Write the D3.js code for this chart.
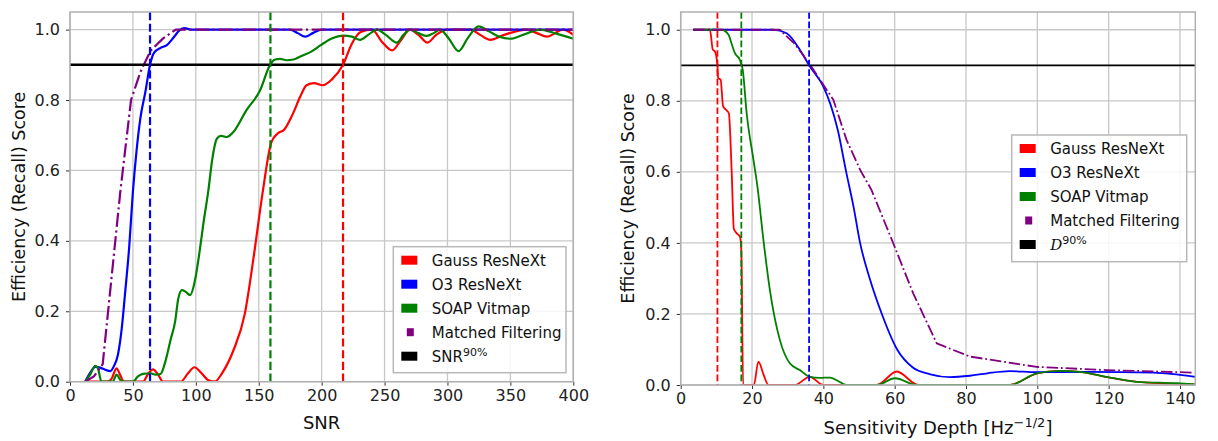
<!DOCTYPE html>
<html>
<head>
<meta charset="utf-8">
<script src="https://cdn.jsdelivr.net/npm/d3@7"></script>
<style>
  html, body { margin: 0; padding: 0; background: #fff; }
  svg { display: block; font-family: "DejaVu Sans", sans-serif; }
</style>
</head>
<body>
<svg id="fig" width="1218" height="441"></svg>
<script>
// ---- tick values ----
const snrTicks = [0, 50, 100, 150, 200, 250, 300, 350, 400];
const depthTicks = [0, 20, 40, 60, 80, 100, 120, 140];
const recallTicks = [0, 0.2, 0.4, 0.6, 0.8, 1.0];

const seriesNames = ["Gauss ResNeXt", "O3 ResNeXt", "SOAP Vitmap", "Matched Filtering"];

// ---- recall vs SNR: [snr, recall] ----
const gaussSnr = [[12,0],[30,0],[33,0.008],[37,0.038],[40,0.018],[43,0],[58,0],[62,0.022],[66,0.035],[70,0.02],[74,0],[88,0],[94,0.025],[99,0.041],[104,0.026],[110,0.004],[115,0],[121,0.025],[130,0.09],[139,0.194],[146,0.355],[153,0.535],[160,0.68],[165,0.705],[170,0.715],[177,0.76],[183,0.81],[188,0.842],[194,0.848],[201,0.842],[208,0.858],[217,0.9],[224,0.96],[231,0.993],[240,1.0],[248,0.965],[256,0.941],[263,0.97],[270,1.0],[277,0.985],[284,0.963],[291,0.985],[300,1.0],[318,1.0],[326,0.985],[334,0.971],[345,0.985],[363,1.0],[371,0.99],[379,0.98],[392,1.0],[400,0.985]];
const o3Snr = [[12,0],[16,0.025],[20,0.042],[24,0.04],[28,0.034],[32,0.03],[35,0.045],[38,0.075],[41,0.147],[44,0.26],[47,0.38],[50,0.54],[53,0.66],[56,0.75],[60,0.825],[63.6,0.9],[67,0.935],[72,0.948],[77,0.956],[82,0.976],[87,0.998],[91,1.004],[96,1.0],[175,1.0],[181,0.99],[187,0.98],[193,0.99],[200,1.0],[400,1.0]];
const soapSnr = [[12,0],[16,0.02],[20,0.045],[22,0.04],[25,0],[34,0],[37,0.02],[40,0.005],[43,0],[50,0],[54,0.015],[58,0.022],[64,0.024],[68,0.02],[72,0.022],[76,0.06],[80,0.12],[83.5,0.17],[86,0.235],[89,0.26],[92,0.255],[95.4,0.246],[99.4,0.289],[103,0.37],[106,0.449],[110,0.544],[113,0.63],[116.7,0.69],[120,0.698],[124.6,0.695],[130,0.71],[140,0.77],[151,0.827],[159,0.9],[163,0.915],[167,0.917],[172,0.913],[177.6,0.915],[184,0.925],[191,0.936],[199,0.955],[208,0.975],[217,0.983],[224,0.98],[230.6,0.971],[237,0.985],[244,1.0],[251,0.985],[259.8,0.963],[265,0.985],[270.4,1.0],[277,0.99],[283.6,0.982],[289,0.99],[294,1.0],[301,0.975],[308.8,0.939],[316,0.975],[324.7,1.009],[333,0.995],[341,0.98],[350,0.974],[360,0.985],[373.7,1.0],[385,0.99],[400,0.974]];
const mfSnr = [[12,0],[19,0.015],[26,0.05],[40,0.54],[48.5,0.8],[56,0.88],[64,0.94],[74,0.975],[84,1.0],[400,1.0]];
const snrAt90 = [217, 63.6, 159.3];   // Gauss, O3, SOAP

// ---- recall vs sensitivity depth: [depth, recall] ----
const gaussDepth = [[3.5,1.0],[8.2,1.0],[9.0,0.944],[9.6,0.939],[10.3,0.9],[10.5,0.864],[11.2,0.859],[11.9,0.784],[12.9,0.773],[13.5,0.765],[14.3,0.6],[14.9,0.44],[15.7,0.427],[16.6,0.418],[17.0,0.38],[17.5,0],[20.5,0],[21.8,0.066],[23.2,0.03],[24.6,0],[32,0],[36.2,0.023],[40,0],[55,0],[60.6,0.038],[66.6,0],[92,0],[100,0.033],[106,0.04],[112,0.037],[119,0.023],[128,0.009],[144.3,0.002]];
const o3Depth = [[3.5,1.0],[26,1.0],[29.7,0.99],[33.4,0.944],[36,0.9],[40,0.84],[42,0.79],[44,0.72],[46.4,0.6],[48.5,0.5],[50.3,0.4],[53,0.3],[56.4,0.2],[60.7,0.1],[65,0.05],[70,0.03],[75.5,0.022],[81.1,0.026],[86,0.033],[92.3,0.039],[99.8,0.036],[113.8,0.037],[132.5,0.035],[144.3,0.023]];
const soapDepth = [[3.5,1.0],[11.5,1.0],[13.4,0.986],[14.3,0.96],[15.2,0.934],[16.6,0.915],[17.4,0.887],[18.5,0.765],[20.4,0.634],[21.5,0.56],[23.2,0.408],[25,0.268],[27.8,0.127],[30.6,0.061],[33.4,0.042],[36.2,0.023],[39,0.02],[41.9,0.021],[44,0.012],[46.5,0],[55,0],[60.1,0.019],[66.2,0],[92.3,0],[99.8,0.033],[106.3,0.04],[112,0.037],[119.4,0.023],[127.8,0.009],[139,0.005],[144.3,0.002]];
const mfDepth = [[3.5,1.0],[27.8,1.0],[32,0.96],[36,0.906],[40,0.845],[42.8,0.803],[46.5,0.69],[50.3,0.606],[53.5,0.549],[59.6,0.399],[65.2,0.258],[71.8,0.117],[81.1,0.08],[99.8,0.051],[119.4,0.042],[143.6,0.035]];
const depthAt90 = [10.3, 36.0, 17.0];  // Gauss, O3, SOAP

const target = 0.9;
const colors = ["#ff0000", "#0000ff", "#008000", "#800080"];

const svg = d3.select("#fig");

function panel(cfg) {
  const x = d3.scaleLinear().domain(cfg.xDomain).range([cfg.left, cfg.right]);
  const y = d3.scaleLinear().domain([0, 1.05]).range([cfg.bottom, cfg.top]);
  const g = svg.append("g");
  const clipId = "clip-" + cfg.id;
  svg.append("clipPath").attr("id", clipId).append("rect")
    .attr("x", cfg.left).attr("y", cfg.top)
    .attr("width", cfg.right - cfg.left).attr("height", cfg.bottom - cfg.top);

  // grid
  g.append("g").selectAll("line").data(cfg.xTicks).join("line")
    .attr("x1", d => x(d)).attr("x2", d => x(d))
    .attr("y1", cfg.top).attr("y2", cfg.bottom)
    .attr("stroke", "#c8c8c8").attr("stroke-width", 1.3);
  g.append("g").selectAll("line").data(recallTicks).join("line")
    .attr("x1", cfg.left).attr("x2", cfg.right)
    .attr("y1", d => y(d)).attr("y2", d => y(d))
    .attr("stroke", "#c8c8c8").attr("stroke-width", 1.3);

  // axes
  const xAxis = g.append("g").attr("transform", `translate(0,${cfg.bottom})`)
    .call(d3.axisBottom(x).tickValues(cfg.xTicks).tickFormat(d3.format("d")).tickSize(4).tickPadding(4));
  const yAxis = g.append("g").attr("transform", `translate(${cfg.left},0)`)
    .call(d3.axisLeft(y).tickValues(recallTicks).tickFormat(d3.format(".1f")).tickSize(4).tickPadding(6));
  [xAxis, yAxis].forEach(a => {
    a.select(".domain").remove();
    a.selectAll(".tick line").attr("stroke", "#333").attr("stroke-width", 1);
    a.selectAll(".tick text").attr("fill", "#222").style("font-size", "16px")
      .style("font-family", "DejaVu Sans, sans-serif");
  });

  const plot = g.append("g").attr("clip-path", `url(#${clipId})`);
  const line = d3.line().x(d => x(d[0])).y(d => y(d[1]));

  // recall curves
  cfg.series.forEach((s, i) => {
    const isMF = i === 3;
    plot.append("path").datum(s)
      .attr("d", line.curve(isMF ? d3.curveLinear : d3.curveMonotoneX)(s))
      .attr("fill", "none").attr("stroke", colors[i])
      .attr("stroke-width", cfg.lw)
      .attr("stroke-linejoin", "round")
      .attr("stroke-dasharray", isMF ? `${6.4*cfg.lw},${1.6*cfg.lw},${cfg.lw},${1.6*cfg.lw}` : null);
  });

  // 90% target and thresholds
  plot.append("line")
    .attr("x1", cfg.left).attr("x2", cfg.right)
    .attr("y1", y(target)).attr("y2", y(target))
    .attr("stroke", "#000").attr("stroke-width", cfg.blackW);
  cfg.at90.forEach((v, i) => {
    plot.append("line")
      .attr("x1", x(v)).attr("x2", x(v))
      .attr("y1", cfg.top).attr("y2", cfg.bottom)
      .attr("stroke", colors[i]).attr("stroke-width", cfg.lw)
      .attr("stroke-dasharray", `${3.7*cfg.lw},${1.6*cfg.lw}`);
  });

  // frame
  g.append("rect").attr("x", cfg.left).attr("y", cfg.top)
    .attr("width", cfg.right - cfg.left).attr("height", cfg.bottom - cfg.top)
    .attr("fill", "none").attr("stroke", "#b0b0b0").attr("stroke-width", 1.5);

  // axis titles
  const xt = g.append("text").attr("x", (cfg.left + cfg.right) / 2).attr("y", cfg.xLabelY)
    .attr("text-anchor", "middle").style("font-size", "18px").attr("fill", "#111");
  cfg.xLabel(xt);
  g.append("text")
    .attr("transform", `translate(${cfg.yLabelX},${(cfg.top + cfg.bottom) / 2}) rotate(-90)`)
    .attr("text-anchor", "middle").style("font-size", "17.5px").attr("fill", "#111")
    .text("Efficiency (Recall) Score");

  // legend
  const L = cfg.legend;
  const lg = g.append("g");
  lg.append("rect").attr("x", L.x).attr("y", L.y).attr("width", L.w).attr("height", L.h)
    .attr("fill", "rgba(255,255,255,0.85)").attr("stroke", "#b8b8b8").attr("stroke-width", 1.5);
  const labels = seriesNames.concat(["__target__"]);
  const swCol = colors.concat(["#000"]);
  labels.forEach((name, i) => {
    const cy = L.y + 13.5 + i * 24;
    if (i === 3) {
      lg.append("rect").attr("x", L.x + 13.5).attr("y", cy - 4).attr("width", 7).attr("height", 8)
        .attr("fill", swCol[i]);
    } else {
      lg.append("rect").attr("x", L.x + 8).attr("y", cy - 4.5).attr("width", 16).attr("height", 9)
        .attr("fill", swCol[i]);
    }
    const t = lg.append("text").attr("x", L.x + 38.5).attr("y", cy + 5.5)
      .style("font-size", "15px").attr("fill", "#111");
    if (name === "__target__") cfg.targetLabel(t);
    else t.text(name);
  });
}

panel({
  id: "snr", left: 70, right: 573.3, top: 12, bottom: 381.7,
  xDomain: [0, 400], xTicks: snrTicks, lw: 2.2, blackW: 2.6,
  series: [gaussSnr, o3Snr, soapSnr, mfSnr], at90: snrAt90,
  xLabelY: 428.5, yLabelX: 24.5,
  xLabel: t => t.text("SNR"),
  legend: { x: 393.3, y: 246.7, w: 172.7, h: 126 },
  targetLabel: t => {
    t.append("tspan").text("SNR");
    t.append("tspan").attr("dy", -6).style("font-size", "11px").text("90%");
  }
});

panel({
  id: "depth", left: 680.7, right: 1195.3, top: 12, bottom: 385,
  xDomain: [0, 144.3], xTicks: depthTicks, lw: 1.8, blackW: 1.8,
  series: [gaussDepth, o3Depth, soapDepth, mfDepth], at90: depthAt90,
  xLabelY: 434, yLabelX: 634,
  xLabel: t => {
    t.append("tspan").text("Sensitivity Depth [Hz");
    t.append("tspan").attr("dy", -7).style("font-size", "13px").text("\u22121/2");
    t.append("tspan").attr("dy", 7).text("]");
  },
  legend: { x: 1011.7, y: 135, w: 175, h: 126.7 },
  targetLabel: t => {
    t.append("tspan").style("font-family", "DejaVu Serif, serif").style("font-style", "italic").text("D");
    t.append("tspan").attr("dy", -6).style("font-size", "11px").text("90%");
  }
});
</script>
</body>
</html>
